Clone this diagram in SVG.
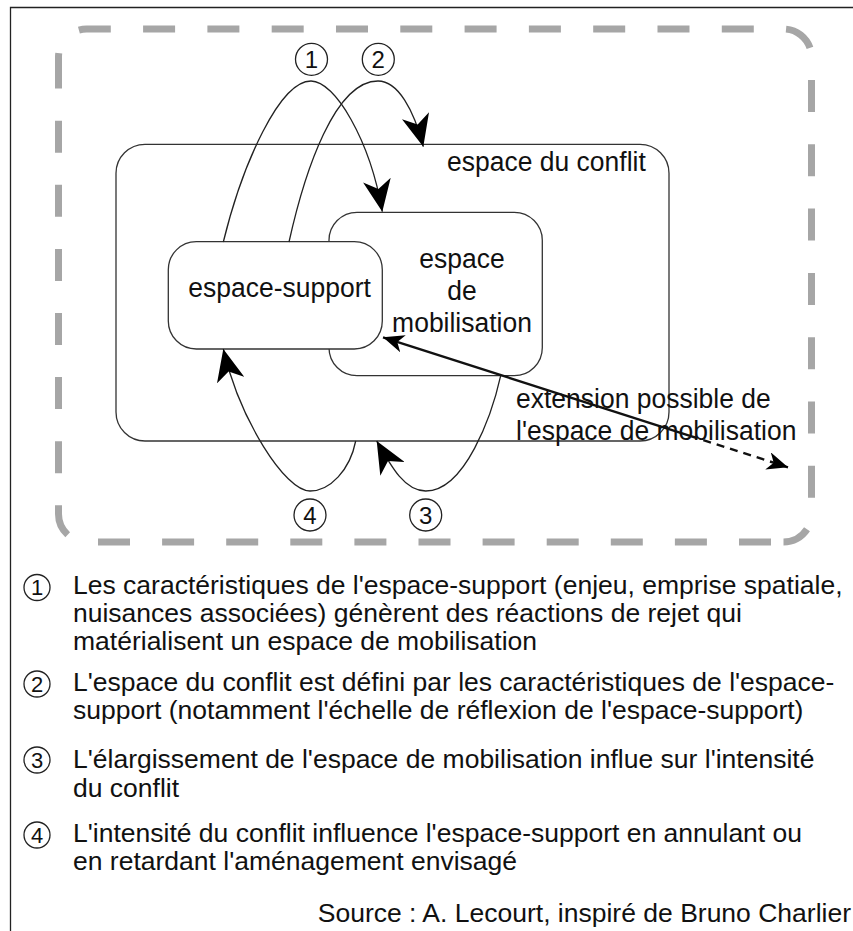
<svg xmlns="http://www.w3.org/2000/svg" width="853" height="931" viewBox="0 0 853 931">
<style>
text{font-family:"Liberation Sans",Arial,Helvetica,sans-serif;fill:#111;}
.lbl{font-size:28px;}
.leg{font-size:26.5px;}
.num{font-size:24px;text-anchor:middle;}
.lnum{font-size:22px;text-anchor:middle;}
.box{fill:#fff;stroke:#333;stroke-width:1.3;}
.ring{fill:#fff;stroke:#222;stroke-width:1.3;}
.dash{fill:none;stroke:#a6a6a6;stroke-width:7;}
.arc{fill:none;stroke:#222;stroke-width:1.3;}
.ext{fill:none;stroke:#111;stroke-width:2.4;}
</style>
<defs>
<marker id="big" markerUnits="userSpaceOnUse" markerWidth="32" markerHeight="28" viewBox="0 0 32 28" refX="32" refY="14" orient="auto">
<path d="M0,0 L32,14 L0,28 L9,14 Z" fill="#000"/>
</marker>
<marker id="small" markerUnits="userSpaceOnUse" markerWidth="21" markerHeight="18" viewBox="0 0 21 18" refX="21" refY="9" orient="auto">
<path d="M0,0 L21,9 L0,18 L6,9 Z" fill="#000"/>
</marker>
<marker id="smallStart" markerUnits="userSpaceOnUse" markerWidth="21" markerHeight="18" viewBox="0 0 21 18" refX="21" refY="9" orient="auto-start-reverse">
<path d="M0,0 L21,9 L0,18 L6,9 Z" fill="#000"/>
</marker>
</defs>
<rect width="853" height="931" fill="#fff"/>
<path d="M10.5,931 V7.5 H853" fill="none" stroke="#222" stroke-width="1.3"/>
<g id="perimetre">
<path class="dash" d="M58.5,57 A28,28 0 0 1 86.5,29 H783.5 A28,28 0 0 1 811.5,57 V514 A28,28 0 0 1 783.5,542" stroke-dasharray="32 32.3" stroke-dashoffset="28.1"/>
<path class="dash" d="M783.5,542 H86.5 A28,28 0 0 1 58.5,514 V57" stroke-dasharray="32 32.1" stroke-dashoffset="51.6"/>
</g>
<g id="espace-conflit">
<rect class="box" x="116" y="144.3" width="553" height="296.7" rx="29" fill="none"/>
<text class="lbl" transform="translate(447 171) scale(0.946 1)">espace du conflit</text>
</g>
<g id="espace-mobilisation">
<rect class="box" x="329" y="212.3" width="213.3" height="163.4" rx="28"/>
<text class="lbl" transform="translate(462 268.3) scale(0.946 1)" text-anchor="middle">espace</text>
<text class="lbl" transform="translate(462 300) scale(0.946 1)" text-anchor="middle">de</text>
<text class="lbl" transform="translate(462 331.7) scale(0.946 1)" text-anchor="middle">mobilisation</text>
</g>
<g id="espace-support">
<rect class="box" x="168.3" y="241.7" width="214" height="107.3" rx="28"/>
<text class="lbl" transform="translate(188.3 297) scale(0.946 1)">espace-support</text>
</g>
<g id="connecteurs">
<path class="arc" d="M223.3,242 C243,162 280,81 311,81 C335,81 370,140 382.3,211.7" marker-end="url(#big)"/>
<path class="arc" d="M289,242 C305,170 335,81 378,81 C398,81 414,110 423.3,146.7" marker-end="url(#big)"/>
<path class="arc" d="M355.7,441 C350,470 330,491 310,491 C285,491 240,420 223.3,349" marker-end="url(#big)"/>
<path class="arc" d="M500.7,375.7 C492,415 465,491 425.7,491 C405,491 392,468 376.7,441" marker-end="url(#big)"/>
<path class="ext" d="M383,337.3 L690,435.8" marker-start="url(#smallStart)"/>
<path class="ext" d="M690,435.8 L788,467.3" stroke-dasharray="8 6" marker-end="url(#small)"/>
</g>
<g id="n1"><circle class="ring" cx="311.5" cy="59.3" r="16"/><text class="num" x="311.5" y="67.8">1</text></g>
<g id="n2"><circle class="ring" cx="378.3" cy="59.3" r="16"/><text class="num" x="378.3" y="67.8">2</text></g>
<g id="n4"><circle class="ring" cx="310" cy="515" r="16"/><text class="num" x="310" y="523.5">4</text></g>
<g id="n3"><circle class="ring" cx="425.7" cy="515" r="16"/><text class="num" x="425.7" y="523.5">3</text></g>
<g id="extension-label">
<text class="lbl" transform="translate(516 408.3) scale(0.946 1)">extension possible de</text>
<text class="lbl" transform="translate(516 439.7) scale(0.946 1)">l'espace de mobilisation</text>
</g>
<g id="legende">
<circle class="ring" cx="37" cy="587.5" r="13"/><text class="lnum" x="37" y="595.3">1</text>
<text class="leg" x="73" y="594">Les caractéristiques de l'espace-support (enjeu, emprise spatiale,</text>
<text class="leg" x="73" y="622">nuisances associées) génèrent des réactions de rejet qui</text>
<text class="leg" x="73" y="650">matérialisent un espace de mobilisation</text>
<circle class="ring" cx="37" cy="684" r="13"/><text class="lnum" x="37" y="691.8">2</text>
<text class="leg" x="73" y="691">L'espace du conflit est défini par les caractéristiques de l'espace-</text>
<text class="leg" x="73" y="719">support (notamment l'échelle de réflexion de l'espace-support)</text>
<circle class="ring" cx="37" cy="760" r="13"/><text class="lnum" x="37" y="767.8">3</text>
<text class="leg" x="73" y="768">L'élargissement de l'espace de mobilisation influe sur l'intensité</text>
<text class="leg" x="73" y="797">du conflit</text>
<circle class="ring" cx="37" cy="835" r="13"/><text class="lnum" x="37" y="842.8">4</text>
<text class="leg" x="73" y="842">L'intensité du conflit influence l'espace-support en annulant ou</text>
<text class="leg" x="73" y="870">en retardant l'aménagement envisagé</text>
<text class="leg" x="851" y="922" text-anchor="end">Source : A. Lecourt, inspiré de Bruno Charlier</text>
</g>
</svg>
